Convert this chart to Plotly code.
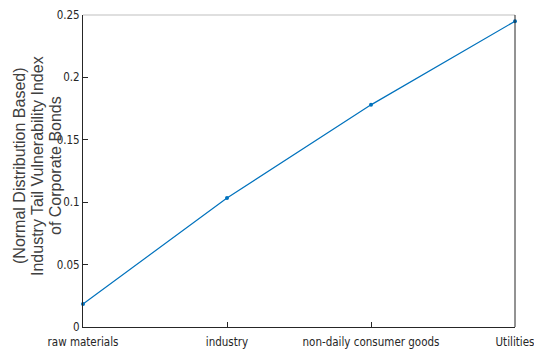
import plotly.graph_objects as go

categories = ["raw materials", "industry", "non-daily consumer goods", "Utilities"]
index_values = [0.0184, 0.1034, 0.178, 0.245]
y_ticks = [0, 0.05, 0.1, 0.15, 0.2, 0.25]
y_tick_labels = ["0", "0.05", "0.1", "0.15", "0.2", "0.25"]
y_title_lines = [
    "(Normal Distribution Based)",
    "Industry Tail Vulnerability Index",
    "of Corporate Bonds",
]

positions = list(range(len(categories)))

fig = go.Figure()
fig.add_trace(go.Scatter(
    x=positions, y=index_values, mode="lines+markers",
    line=dict(color="#0072BD", width=1.2),
    marker=dict(color="#0072BD", size=4),
    showlegend=False, cliponaxis=False,
))

tick_font = dict(family="DejaVu Sans Condensed, Liberation Sans Narrow, Liberation Sans, Arial",
                 size=11.5, color="#262626")
title_font = dict(family="Liberation Sans, Arial", size=16, color="#404040")

# three-line rotated axis title, one annotation per line for tight line spacing
title_shifts = [-64, -46, -28]
annotations = [
    dict(text=line, xref="paper", yref="paper", x=0, y=0.5,
         xanchor="center", yanchor="middle", xshift=dx, yshift=5,
         textangle=-90, showarrow=False, font=title_font)
    for line, dx in zip(y_title_lines, title_shifts)
]

fig.update_layout(
    width=534, height=356,
    margin=dict(l=83, r=19, t=15, b=29, autoexpand=False),
    paper_bgcolor="white", plot_bgcolor="white",
    xaxis=dict(
        range=[0, 3], tickvals=positions, ticktext=categories,
        ticks="inside", ticklen=5, tickcolor="#262626", tickwidth=1,
        showline=True, linecolor="#262626", linewidth=1, mirror=False,
        showgrid=False, zeroline=False, tickfont=tick_font,
        ticklabeloverflow="allow", automargin=False, ticklabelstandoff=4,
    ),
    yaxis=dict(
        range=[0, 0.25], tickvals=y_ticks, ticktext=y_tick_labels,
        ticks="inside", ticklen=5, tickcolor="#262626", tickwidth=1,
        showline=True, linecolor="#262626", linewidth=1, mirror=False,
        showgrid=False, zeroline=False, tickfont=tick_font,
        ticklabeloverflow="allow", automargin=False,
    ),
    annotations=annotations,
    shapes=[
        # box edges: light top border, dark right border
        dict(type="line", xref="paper", yref="paper", x0=0, x1=1, y0=1, y1=1,
             line=dict(color="#BFBFBF", width=1)),
        dict(type="line", xref="paper", yref="paper", x0=1, x1=1, y0=0, y1=1,
             line=dict(color="#262626", width=1)),
    ],
)

fig.write_html("out.html")
